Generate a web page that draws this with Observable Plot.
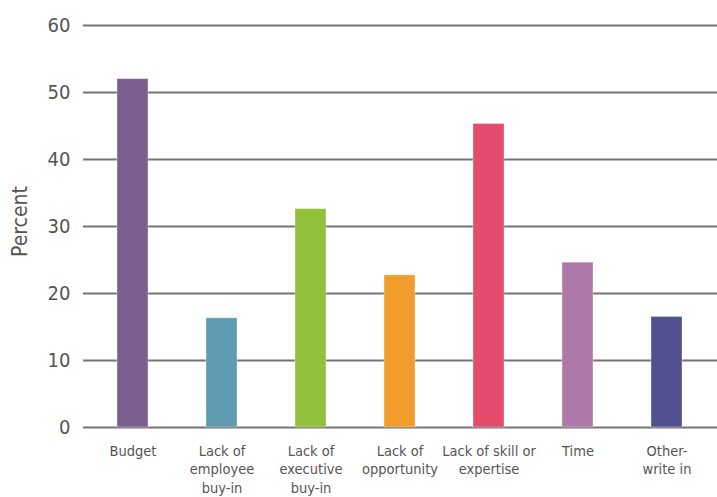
<!DOCTYPE html>
<html>
<head>
<meta charset="utf-8">
<script src="https://cdn.jsdelivr.net/npm/d3@7"></script>
<script src="https://cdn.jsdelivr.net/npm/@observablehq/plot@0.6"></script>
<style>
  html, body { margin: 0; padding: 0; background: #fff; }
  #chart svg { display: block; }
</style>
</head>
<body>
<div id="chart"></div>
<script>
const categories = ["Budget", "Lack of employee buy-in", "Lack of executive buy-in", "Lack of opportunity", "Lack of skill or expertise", "Time", "Other-write in"];
const tickLabels = ["Budget", "Lack of\nemployee\nbuy-in", "Lack of\nexecutive\nbuy-in", "Lack of\nopportunity", "Lack of skill or\nexpertise", "Time", "Other-\nwrite in"];
const values = [52.0, 16.3, 32.6, 22.7, 45.3, 24.6, 16.5];
const colors = ["#7b5f8e", "#5f9bb1", "#94c13c", "#f09d2b", "#e54b6c", "#ae78aa", "#525190"];
const yTicks = [0, 10, 20, 30, 40, 50, 60];

const data = categories.map((c, i) => ({category: c, value: values[i], color: colors[i]}));
const labelOf = new Map(categories.map((c, i) => [c, tickLabels[i]]));

const font = "'Liberation Sans Narrow', 'DejaVu Sans Condensed', 'DejaVu Sans', sans-serif";

const chart = Plot.plot({
  width: 717,
  height: 497,
  marginTop: 25,
  marginBottom: 70,
  marginLeft: 83,
  marginRight: 0,
  style: {fontFamily: font, color: "#555", background: "#fff"},
  x: {domain: categories, paddingInner: 0.65, paddingOuter: 0.37, label: null},
  y: {domain: [0, 60], label: null},
  marks: [
    Plot.gridY(yTicks, {stroke: "#747474", strokeOpacity: 1, strokeWidth: 2}),
    Plot.barY(data, {x: "category", y: "value", fill: "color", stroke: "white", strokeOpacity: 0.35, strokeWidth: 1}),
    Plot.axisY(yTicks, {tickSize: 0, tickPadding: 13, fontSize: 20, fill: "#555", label: null}),
    Plot.axisX({tickSize: 0, tickPadding: 16, fontSize: 14.5, lineHeight: 1.25, fill: "#555", label: null, tickFormat: d => labelOf.get(d)}),
    Plot.text(["Percent"], {frameAnchor: "left", dx: -63, dy: -5, rotate: -90, fontSize: 21, fill: "#555", letterSpacing: 1, textAnchor: "middle"})
  ]
});
document.getElementById("chart").append(chart);
</script>
</body>
</html>
